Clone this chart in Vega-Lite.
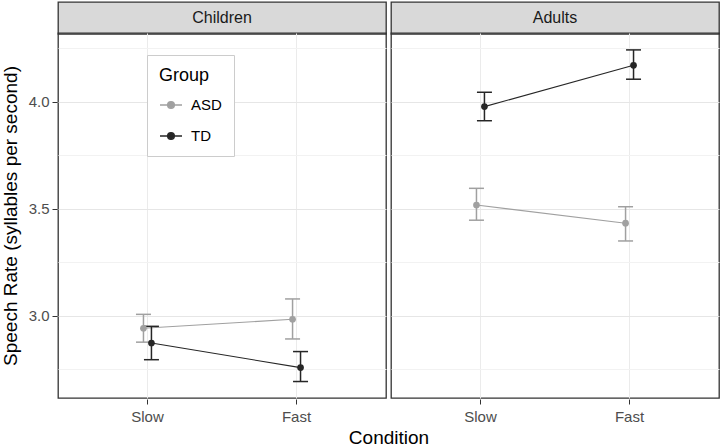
{
  "$schema": "https://vega.github.io/schema/vega-lite/v6.json",
  "background": "white",
  "padding": {"left": 1, "top": 1, "right": 2, "bottom": 2},
  "config": {
    "font": "Liberation Sans",
    "axis": {"titleFontWeight": "normal", "titleColor": "#000000", "titleFontSize": 19, "labelFontSize": 15, "labelColor": "#4d4d4d", "tickColor": "#333333", "tickSize": 5, "domain": false}
  },
  "datasets": {
    "strips": [{"Age": "Children"}, {"Age": "Adults"}],
    "rates": [
      {"Age": "Children", "Condition": "Slow", "Group": "ASD", "rate": 2.941, "lower": 2.876, "upper": 3.006},
      {"Age": "Children", "Condition": "Fast", "Group": "ASD", "rate": 2.983, "lower": 2.891, "upper": 3.078},
      {"Age": "Children", "Condition": "Slow", "Group": "TD", "rate": 2.872, "lower": 2.794, "upper": 2.950},
      {"Age": "Children", "Condition": "Fast", "Group": "TD", "rate": 2.757, "lower": 2.692, "upper": 2.832},
      {"Age": "Adults", "Condition": "Slow", "Group": "ASD", "rate": 3.517, "lower": 3.446, "upper": 3.595},
      {"Age": "Adults", "Condition": "Fast", "Group": "ASD", "rate": 3.432, "lower": 3.349, "upper": 3.509},
      {"Age": "Adults", "Condition": "Slow", "Group": "TD", "rate": 3.977, "lower": 3.911, "upper": 4.044},
      {"Age": "Adults", "Condition": "Fast", "Group": "TD", "rate": 4.170, "lower": 4.105, "upper": 4.242}
    ]
  },
  "spacing": 31,
  "bounds": "flush",
  "vconcat": [
    {
      "data": {"name": "strips"},
      "facet": {"column": {"field": "Age", "type": "nominal", "sort": ["Children", "Adults"], "header": null}},
      "spacing": 3,
      "spec": {
        "width": 328,
        "height": 32,
        "view": {"fill": "#d9d9d9", "stroke": "#333333", "strokeWidth": 1.3},
        "mark": {"type": "text", "fontSize": 16, "color": "#1a1a1a"},
        "encoding": {"text": {"field": "Age", "type": "nominal"}}
      }
    },
    {
      "data": {"name": "rates"},
      "facet": {
        "column": {
          "field": "Age", "type": "nominal", "sort": ["Children", "Adults"],
          "title": "Condition",
          "header": {"labels": false, "titleOrient": "bottom", "titleFontSize": 19, "titleFontWeight": "normal", "titleColor": "#000000", "titlePadding": -5}
        }
      },
      "spacing": 3,
      "spec": {
        "width": 328,
        "height": 365,
        "view": {"stroke": "#333333", "strokeWidth": 1.3},
        "encoding": {
          "x": {
            "field": "Condition", "type": "nominal", "sort": ["Slow", "Fast"],
            "scale": {"type": "band", "paddingInner": 0.893, "paddingOuter": 0.5465},
            "axis": {"labelAngle": 0, "gridColor": "#ebebeb", "grid": true, "labelPadding": 5},
            "title": null
          },
          "xOffset": {"field": "Group", "type": "nominal", "sort": ["ASD", "TD"], "scale": {"paddingInner": 0, "paddingOuter": 0}},
          "color": {
            "field": "Group", "type": "nominal",
            "scale": {"domain": ["ASD", "TD"], "range": ["#a0a0a0", "#262626"]},
            "legend": {
              "orient": "none", "legendX": 89, "legendY": 53,
              "title": "Group", "titleFontSize": 18, "titleFontWeight": "normal", "titleColor": "#000000",
              "labelFontSize": 15, "labelColor": "#000000", "labelOffset": 8,
              "strokeColor": "#cccccc", "fillColor": "white", "padding": 12,
              "rowPadding": 11, "titlePadding": 8,
              "symbolType": "M-1,0L1,0M-0.3,0a0.3,0.3 0 1,0 0.6,0a0.3,0.3 0 1,0 -0.6,0",
              "symbolSize": 484, "symbolStrokeWidth": 1.5,
              "encoding": {"symbols": {"update": {"fill": {"scale": "color", "field": "value"}, "stroke": {"scale": "color", "field": "value"}, "opacity": {"value": 1}}}}
            }
          }
        },
        "layer": [
          {
            "mark": {"type": "line", "strokeWidth": 1.1},
            "encoding": {
              "y": {
                "field": "rate", "type": "quantitative",
                "scale": {"domain": [2.615, 4.321], "nice": false, "zero": false},
                "title": "Speech Rate (syllables per second)",
                "axis": {
                  "values": [2.75, 3, 3.25, 3.5, 3.75, 4, 4.25],
                  "labelExpr": "(datum.value*4) % 2 == 0 ? format(datum.value, '.1f') : ''",
                  "gridColor": {"condition": {"test": "(datum.value*4) % 2 == 0", "value": "#e6e6e6"}, "value": "#f2f2f2"},
                  "tickColor": {"condition": {"test": "(datum.value*4) % 2 == 0", "value": "#333333"}, "value": "transparent"},
                  "labelPadding": 3, "titlePadding": 8
                }
              },
              "detail": {"field": "Group"}
            }
          },
          {
            "mark": {"type": "rule", "strokeWidth": 1.5},
            "encoding": {"y": {"field": "lower", "type": "quantitative"}, "y2": {"field": "upper"}}
          },
          {
            "mark": {"type": "tick", "size": 15, "thickness": 1.5, "opacity": 1},
            "encoding": {"y": {"field": "lower", "type": "quantitative"}}
          },
          {
            "mark": {"type": "tick", "size": 15, "thickness": 1.5, "opacity": 1},
            "encoding": {"y": {"field": "upper", "type": "quantitative"}}
          },
          {
            "mark": {"type": "point", "filled": true, "size": 45, "opacity": 1},
            "encoding": {"y": {"field": "rate", "type": "quantitative"}}
          }
        ]
      }
    }
  ]
}
